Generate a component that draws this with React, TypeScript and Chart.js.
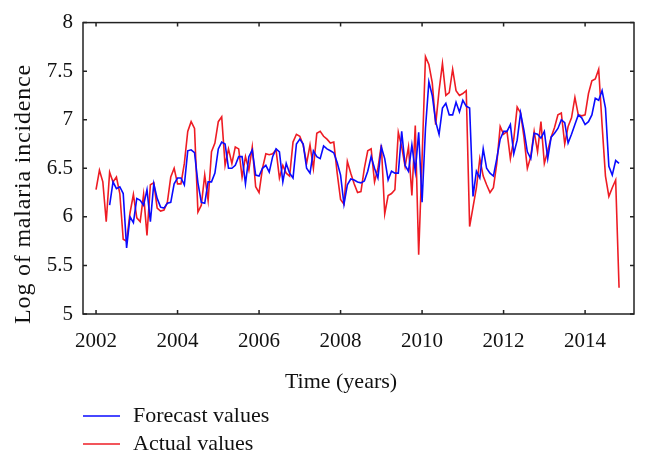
import React, { useEffect, useRef } from "react";
import { Chart, registerables } from "chart.js";

Chart.register(...registerables);

const startYear = 2002;
const xTicks = [2002, 2004, 2006, 2008, 2010, 2012, 2014];
const yTicks = [5, 5.5, 6, 6.5, 7, 7.5, 8];
const seriesLabels = ["Forecast values", "Actual values"];
const seriesColors = ["#0a0aff", "#ee1c24"];

const actual = [
  6.28, 6.48, 6.36, 5.95, 6.46, 6.36, 6.41, 6.24, 5.77, 5.75,
  6.04, 6.23, 5.99, 5.95, 6.23, 5.81, 6.33, 6.35, 6.09, 6.06,
  6.07, 6.15, 6.41, 6.50, 6.34, 6.34, 6.55, 6.88, 6.98, 6.91,
  6.05, 6.12, 6.43, 6.17, 6.67, 6.76, 6.98, 7.03, 6.53, 6.70,
  6.55, 6.72, 6.70, 6.41, 6.62, 6.48, 6.72, 6.31, 6.25, 6.50,
  6.65, 6.64, 6.65, 6.69, 6.40, 6.53, 6.45, 6.42, 6.77, 6.85,
  6.83, 6.74, 6.55, 6.74, 6.50, 6.86, 6.88, 6.83, 6.80, 6.76,
  6.77, 6.45, 6.18, 6.13, 6.57, 6.45, 6.34, 6.25, 6.26, 6.50,
  6.68, 6.70, 6.36, 6.50, 6.74, 6.03, 6.22, 6.24, 6.28, 6.87,
  6.72, 6.52, 6.72, 6.22, 6.94, 5.61, 6.60, 7.65, 7.57, 7.38,
  6.95, 7.30, 7.58, 7.25, 7.28, 7.52, 7.30, 7.25, 7.27, 7.30,
  5.90, 6.10, 6.30, 6.60, 6.42, 6.33, 6.25, 6.30, 6.55, 6.93,
  6.85, 6.88, 6.60, 6.80, 7.13, 7.07, 6.82, 6.50, 6.62, 6.88,
  6.67, 6.98, 6.55, 6.68, 6.82, 6.92, 7.05, 7.07, 6.75, 6.93,
  7.02, 7.23, 7.05, 7.04, 7.05, 7.27, 7.40, 7.42, 7.52, 6.95,
  6.42, 6.21, 6.30, 6.38, 5.27,
];

const forecast = [
  null, null, null, null, 6.12, 6.36, 6.29, 6.31, 6.24, 5.68,
  6.00, 5.94, 6.19, 6.17, 6.12, 6.28, 5.95, 6.34, 6.19, 6.10,
  6.09, 6.14, 6.15, 6.34, 6.40, 6.40, 6.33, 6.68, 6.69, 6.66,
  6.35, 6.15, 6.14, 6.36, 6.36, 6.45, 6.70, 6.77, 6.75, 6.50,
  6.50, 6.53, 6.62, 6.62, 6.34, 6.62, 6.69, 6.43, 6.42, 6.50,
  6.53, 6.46, 6.62, 6.70, 6.67, 6.36, 6.55, 6.45, 6.40, 6.75,
  6.80, 6.75, 6.50, 6.45, 6.68, 6.62, 6.60, 6.73, 6.70, 6.68,
  6.66, 6.56, 6.43, 6.13, 6.33, 6.39, 6.38, 6.36, 6.35, 6.37,
  6.47, 6.62, 6.50, 6.40, 6.72, 6.60, 6.38, 6.47, 6.45, 6.45,
  6.88, 6.53, 6.47, 6.74, 6.47, 6.87, 6.15, 6.91, 7.39, 7.25,
  6.98, 6.85, 7.12, 7.17, 7.05, 7.05, 7.18, 7.08, 7.20, 7.14,
  7.12, 6.21, 6.47, 6.40, 6.70, 6.50, 6.45, 6.42, 6.60, 6.80,
  6.88, 6.88, 6.95, 6.65, 6.79, 7.07, 6.89, 6.67, 6.60, 6.86,
  6.85, 6.81, 6.88, 6.60, 6.82, 6.86, 6.91, 7.00, 6.97, 6.76,
  6.85, 6.95, 7.05, 7.02, 6.95, 6.98, 7.05, 7.22, 7.20, 7.30,
  7.12, 6.52, 6.43, 6.58, 6.55,
];

const FONT = "'Liberation Serif', 'DejaVu Serif', serif";
const FS = 21;
const TFS = 22;
const YTFS = 24;

const toPoints = (arr: (number | null)[]) =>
  arr
    .map((v, i) => ({ x: startYear + i / 12, y: v }))
    .filter((p) => p.y !== null);

const framePlugin = {
  id: "frame",
  afterDraw(chart: any) {
    const { ctx, chartArea: a, scales } = chart;
    ctx.save();
    ctx.strokeStyle = "#222";
    ctx.lineWidth = 1.5;
    ctx.strokeRect(a.left, a.top, a.right - a.left, a.bottom - a.top);
    const tl = 4;
    ctx.beginPath();
    xTicks.forEach((t) => {
      const px = scales.x.getPixelForValue(t);
      ctx.moveTo(px, a.bottom);
      ctx.lineTo(px, a.bottom - tl);
      ctx.moveTo(px, a.top);
      ctx.lineTo(px, a.top + tl);
    });
    yTicks.forEach((t) => {
      const py = scales.y.getPixelForValue(t);
      ctx.moveTo(a.left, py);
      ctx.lineTo(a.left + tl, py);
      ctx.moveTo(a.right, py);
      ctx.lineTo(a.right - tl, py);
    });
    ctx.stroke();

    // axis titles
    ctx.fillStyle = "#111";
    ctx.font = `${TFS}px ${FONT}`;
    ctx.textAlign = "center";
    ctx.textBaseline = "middle";
    ctx.fillText("Time (years)", 341, 382);
    ctx.save();
    ctx.font = `${YTFS}px ${FONT}`;
    ctx.translate(24, 194);
    ctx.rotate(-Math.PI / 2);
    (ctx as any).letterSpacing = "0.8px";
    ctx.fillText("Log of malaria incidence", 0, 0);
    (ctx as any).letterSpacing = "0px";
    ctx.restore();

    // legend
    ctx.font = `${TFS}px ${FONT}`;
    const rows = [416, 444];
    chart.data.datasets.forEach((ds: any, i: number) => {
      const y = rows[i];
      ctx.strokeStyle = ds.borderColor;
      ctx.lineWidth = 1.5;
      ctx.beginPath();
      ctx.moveTo(83, y);
      ctx.lineTo(120, y);
      ctx.stroke();
      ctx.fillStyle = "#111";
      ctx.textAlign = "left";
      ctx.fillText(ds.label, 133, y);
    });
    ctx.restore();
  },
};

export default function App() {
  const ref = useRef<HTMLCanvasElement | null>(null);
  useEffect(() => {
    if (!ref.current) return;
    const chart = new Chart(ref.current, {
      type: "line",
      data: {
        datasets: [
          {
            label: seriesLabels[0],
            data: toPoints(forecast) as any,
            borderColor: seriesColors[0],
            borderWidth: 1.6,
            pointRadius: 0,
            tension: 0,
            fill: false,
          },
          {
            label: seriesLabels[1],
            data: toPoints(actual) as any,
            borderColor: seriesColors[1],
            borderWidth: 1.6,
            pointRadius: 0,
            tension: 0,
            fill: false,
          },
        ],
      },
      options: {
        responsive: false,
        animation: false,
        events: [],
        layout: { padding: { left: 0, right: 14, top: 22, bottom: 0 } },
        plugins: { legend: { display: false }, tooltip: { enabled: false } },
        scales: {
          x: {
            type: "linear",
            min: 2001.68,
            max: 2015.2,
            grid: { display: false, drawTicks: false },
            border: { display: false },
            ticks: {
              font: { family: FONT, size: FS },
              color: "#111",
              padding: 15,
              maxRotation: 0,
              callback: (v: any) => String(v),
            },
            afterBuildTicks: (s: any) => {
              s.ticks = xTicks.map((v) => ({ value: v }));
            },
            afterFit: (s: any) => {
              s.height = 152;
            },
          },
          y: {
            min: 5,
            max: 8,
            grid: { display: false, drawTicks: false },
            border: { display: false },
            ticks: {
              font: { family: FONT, size: FS },
              color: "#111",
              padding: 10,
              callback: (v: any) => String(v),
            },
            afterBuildTicks: (s: any) => {
              s.ticks = yTicks.map((v) => ({ value: v }));
            },
            afterFit: (s: any) => {
              s.width = 83;
            },
          },
        },
      },
      plugins: [framePlugin],
    });
    return () => chart.destroy();
  }, []);
  return (
    <div
      style={{
        position: "fixed",
        left: 0,
        top: 0,
        width: 648,
        height: 466,
        background: "#fff",
      }}
    >
      <canvas ref={ref} width={648} height={466} />
    </div>
  );
}
